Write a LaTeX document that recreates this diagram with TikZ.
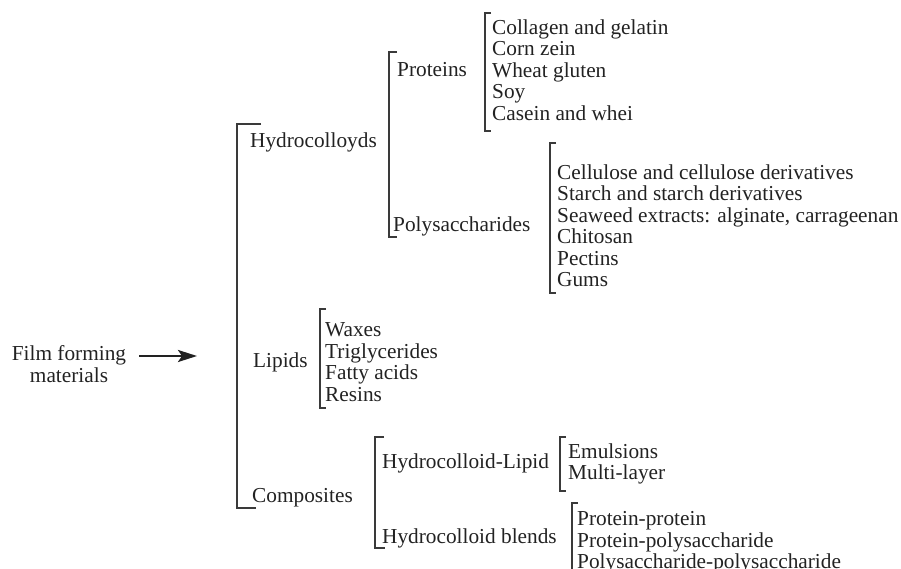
\documentclass[tikz,border=0pt]{standalone}
\usepackage{fontspec}
\setmainfont{Liberation Serif}
\usepackage{tikz}
\usetikzlibrary{arrows.meta}
\definecolor{ink}{HTML}{222222}
\definecolor{rule}{HTML}{3A3A3A}

\begin{document}
\begin{tikzpicture}[
 x=1pt,y=-1pt,
 font=\fontsize{21.3}{21.5}\selectfont,
 lbl/.style={anchor=base west,inner sep=0pt,text=ink},
 lst/.style={anchor=north west,inner sep=0pt,align=left,text=ink},
 brk/.style={draw=rule,line width=1.7pt},
 arr/.style={-{Stealth[length=19pt,width=12pt,inset=4pt]},draw=ink,line width=2.4pt}]
\useasboundingbox (0,0) rectangle (901,569);
\clip (0,0) rectangle (901,569);
% root
\node[anchor=north,inner sep=0pt,align=center,text=ink] (film) at (69,345.5) {Film forming\\materials};
\coordinate (tip) at (197,356);
\draw[arr] ([xshift=13pt]tip -| film.east) -- (tip);
% first level
\node[lbl] (hydro) at (250,148) {Hydrocolloyds};
\node[lbl] (lipids) at (253,367) {Lipids};
\node[lbl] (comp) at (252,502) {Composites};
\draw[brk] ([xshift=11pt,yshift=9pt]hydro.north west) -- ++(-24pt,0) |- ([xshift=4pt,yshift=-1pt]comp.south west);
% second level
\node[lbl] (prot) at (397,77) {Proteins};
\node[lbl] (polys) at (393,232) {Polysaccharides};
\draw[brk] ([yshift=11pt]prot.north west) -- ++(-8pt,0) |- ([xshift=4pt]polys.south west);
\node[lbl] (hylip) at (382,468) {Hydrocolloid-Lipid};
\node[lbl] (blends) at (382,543) {Hydrocolloid blends};
\draw[brk] ([xshift=2pt,yshift=16pt]hylip.north west) -- ++(-9pt,0) |- ([xshift=3pt]blends.south west);
% leaves
\node[lst] (protlist) at (492,19.5) {Collagen and gelatin\\Corn zein\\Wheat gluten\\Soy\\Casein and whei};
\node[lst] (polylist) at (557,164.5) {Cellulose and cellulose derivatives\\Starch and starch derivatives\\Seaweed extracts: alginate, carrageenan\\Chitosan\\Pectins\\Gums};
\node[lst] (liplist) at (325,322.5) {Waxes\\Triglycerides\\Fatty acids\\Resins};
\node[lst] (hylist) at (568,443.5) {Emulsions\\Multi-layer};
\node[lst] (blendlist) at (577,511.5) {Protein-protein\\Protein-polysaccharide\\Polysaccharide-polysaccharide};
\foreach \n/\dx/\up/\dn in {protlist/7/6.5/10,polylist/7/21.5/5.5,liplist/5/13.5/6.5,hylist/8/6.5/6,blendlist/5/8.5/20}
  \draw[brk] ([xshift={6-\dx},yshift=\up]\n.north west) -- ([xshift={-\dx},yshift=\up]\n.north west)
    -- ([xshift={-\dx},yshift={-\dn}]\n.south west) -- ([xshift={6-\dx},yshift={-\dn}]\n.south west);
\end{tikzpicture}
\end{document}
